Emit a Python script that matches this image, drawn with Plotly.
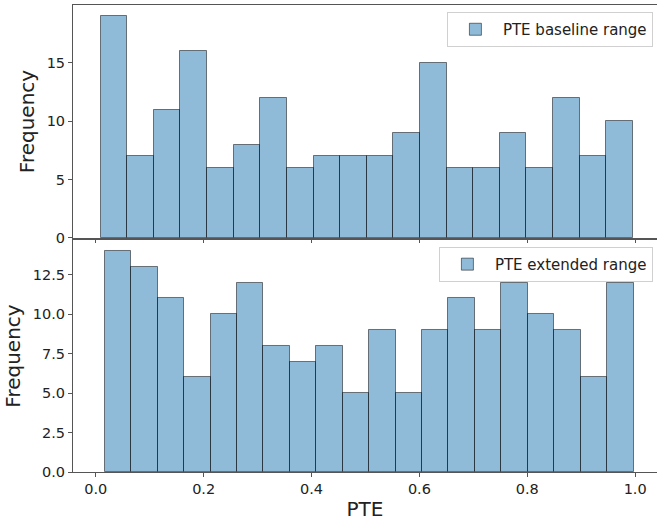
import numpy as np
import plotly.graph_objects as go

# Histogram data (20 bins each)
baseline_counts = [19, 7, 11, 16, 6, 8, 12, 6, 7, 7, 7, 9, 15, 6, 6, 9, 6, 12, 7, 10]
baseline_edges_range = [0.009, 0.9956]
extended_counts = [14, 13, 11, 6, 10, 12, 8, 7, 8, 5, 9, 5, 9, 11, 9, 12, 10, 9, 6, 12]
extended_edges_range = [0.0167, 0.997]

top_yticks = [0, 5, 10, 15]
bottom_yticks = [0.0, 2.5, 5.0, 7.5, 10.0, 12.5]
xticks = [0.0, 0.2, 0.4, 0.6, 0.8, 1.0]


def bin_geometry(counts, rng):
    edges = np.linspace(rng[0], rng[1], len(counts) + 1)
    centers = (edges[:-1] + edges[1:]) / 2
    widths = np.diff(edges)
    return centers, widths


bc, bw = bin_geometry(baseline_counts, baseline_edges_range)
ec, ew = bin_geometry(extended_counts, extended_edges_range)

FILL = "rgba(31,119,180,0.5)"
EDGE = "rgba(0,0,0,0.5)"
SPINE = "#555555"
FONT = "DejaVu Sans"

fig = go.Figure()
fig.add_trace(go.Bar(
    x=bc, y=baseline_counts, width=bw, name="PTE baseline range",
    marker=dict(color=FILL, line=dict(color=EDGE, width=1)),
    xaxis="x", yaxis="y", legend="legend", showlegend=True,
))
fig.add_trace(go.Bar(
    x=ec, y=extended_counts, width=ew, name="PTE extended range",
    marker=dict(color=FILL, line=dict(color=EDGE, width=1)),
    xaxis="x2", yaxis="y2", legend="legend2", showlegend=True,
))

xrange = [-0.0423, 1.0405]
axis_common = dict(showgrid=False, zeroline=False, showline=True, linecolor=SPINE,
                   linewidth=1, ticks="outside", ticklen=4, tickcolor=SPINE,
                   tickfont=dict(size=14.5, color="#222222", family=FONT))

legend_common = dict(xanchor="right", yanchor="top", visible=True, itemwidth=45,
                     bgcolor="rgba(255,255,255,0.8)", bordercolor="#d0d0d0", borderwidth=1,
                     font=dict(size=15, family=FONT, color="#222222"))

fig.update_layout(
    width=657, height=521,
    margin=dict(l=73, r=0, t=5, b=49),
    paper_bgcolor="white", plot_bgcolor="white",
    font=dict(family=FONT, color="#222222"),
    barmode="overlay",
    showlegend=True,
    xaxis=dict(domain=[0, 1], anchor="y", range=xrange, tickvals=xticks,
               showticklabels=False, mirror=True, **axis_common),
    yaxis=dict(domain=[0.5011, 1.0], anchor="x", range=[0, 19.95], tickvals=top_yticks,
               title=dict(text="Frequency", font=dict(size=20, family=FONT, color="#222222"), standoff=6),
               **axis_common),
    xaxis2=dict(domain=[0, 1], anchor="y2", range=xrange, tickvals=xticks,
                ticktext=[f"{v:.1f}" for v in xticks], mirror=True,
                title=dict(text="PTE", font=dict(size=20, family=FONT, color="#222222"), standoff=6),
                **axis_common),
    yaxis2=dict(domain=[0.0, 0.4968], anchor="x2", range=[0, 14.7], tickvals=bottom_yticks,
                ticktext=[f"{v:.1f}" for v in bottom_yticks],
                title=dict(text="Frequency", font=dict(size=20, family=FONT, color="#222222"), standoff=6),
                **axis_common),
    legend=dict(x=0.993, y=0.985, **legend_common),
    legend2=dict(x=0.993, y=0.482, **legend_common),
    bargap=0,
)

fig.write_html("out.html", config={"displayModeBar": False},
               post_script="document.body.style.margin='0';document.body.style.padding='0';")
